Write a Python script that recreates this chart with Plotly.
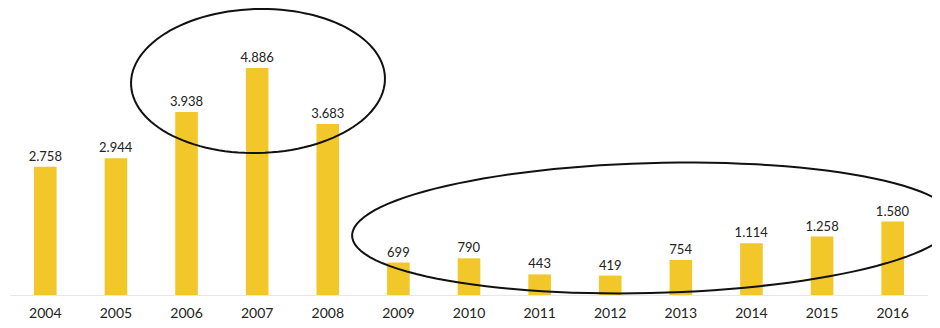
import numpy as np
import plotly.graph_objects as go

years = ["2004", "2005", "2006", "2007", "2008", "2009", "2010",
         "2011", "2012", "2013", "2014", "2015", "2016"]
values = [2758, 2944, 3938, 4886, 3683, 699, 790, 443, 419, 754, 1114, 1258, 1580]

# the page puts the figure 8px in from the top-left corner
OFF = 8
W, H = 932, 320
ML, MR, MT, MB = 2, 12, 0, 33
pw, ph = W - ML - MR, H - MT - MB


def ellipse_path(cx, cy, rx, ry, angle_deg, n=120):
    # cx, cy, rx, ry in window pixels; returns a path in paper coords
    t = np.linspace(0, 2 * np.pi, n)
    a = np.deg2rad(angle_deg)
    x = cx + rx * np.cos(t) * np.cos(a) - ry * np.sin(t) * np.sin(a) - OFF
    y = cy + rx * np.cos(t) * np.sin(a) + ry * np.sin(t) * np.cos(a) - OFF
    px = (x - ML) / pw
    py = (MT + ph - y) / ph
    return "M " + " L ".join(f"{u:.5f},{v:.5f}" for u, v in zip(px, py)) + " Z"


fig = go.Figure(go.Bar(
    x=years, y=values,
    marker=dict(color="#F2C72A", line=dict(width=0)),
    width=0.32,
    texttemplate="%{y:,}",
    textposition="outside",
    constraintext="none",
    cliponaxis=False,
    textfont=dict(family="Lato", size=13, color="#222222"),
))

fig.update_layout(
    width=W, height=H,
    margin=dict(l=ML, r=MR, t=MT, b=MB, autoexpand=False),
    paper_bgcolor="white", plot_bgcolor="white",
    separators=",.",
    showlegend=False,
    xaxis=dict(type="category", range=[-0.5, 12.5], showgrid=False,
               automargin=False,
               showline=True, linecolor="#E6E6EC", linewidth=1,
               ticks="", ticklabelstandoff=5,
               tickfont=dict(family="Lato", size=14, color="#222222")),
    yaxis=dict(range=[0, 6177], visible=False, showgrid=False, automargin=False),
    shapes=[
        dict(type="path", xref="paper", yref="paper",
             path=ellipse_path(258, 81, 127, 72, -1.5),
             line=dict(color="#111111", width=2)),
        dict(type="path", xref="paper", yref="paper",
             path=ellipse_path(653, 228, 301, 65, -1.5),
             line=dict(color="#111111", width=2)),
    ],
)

fig.write_html("out.html")
